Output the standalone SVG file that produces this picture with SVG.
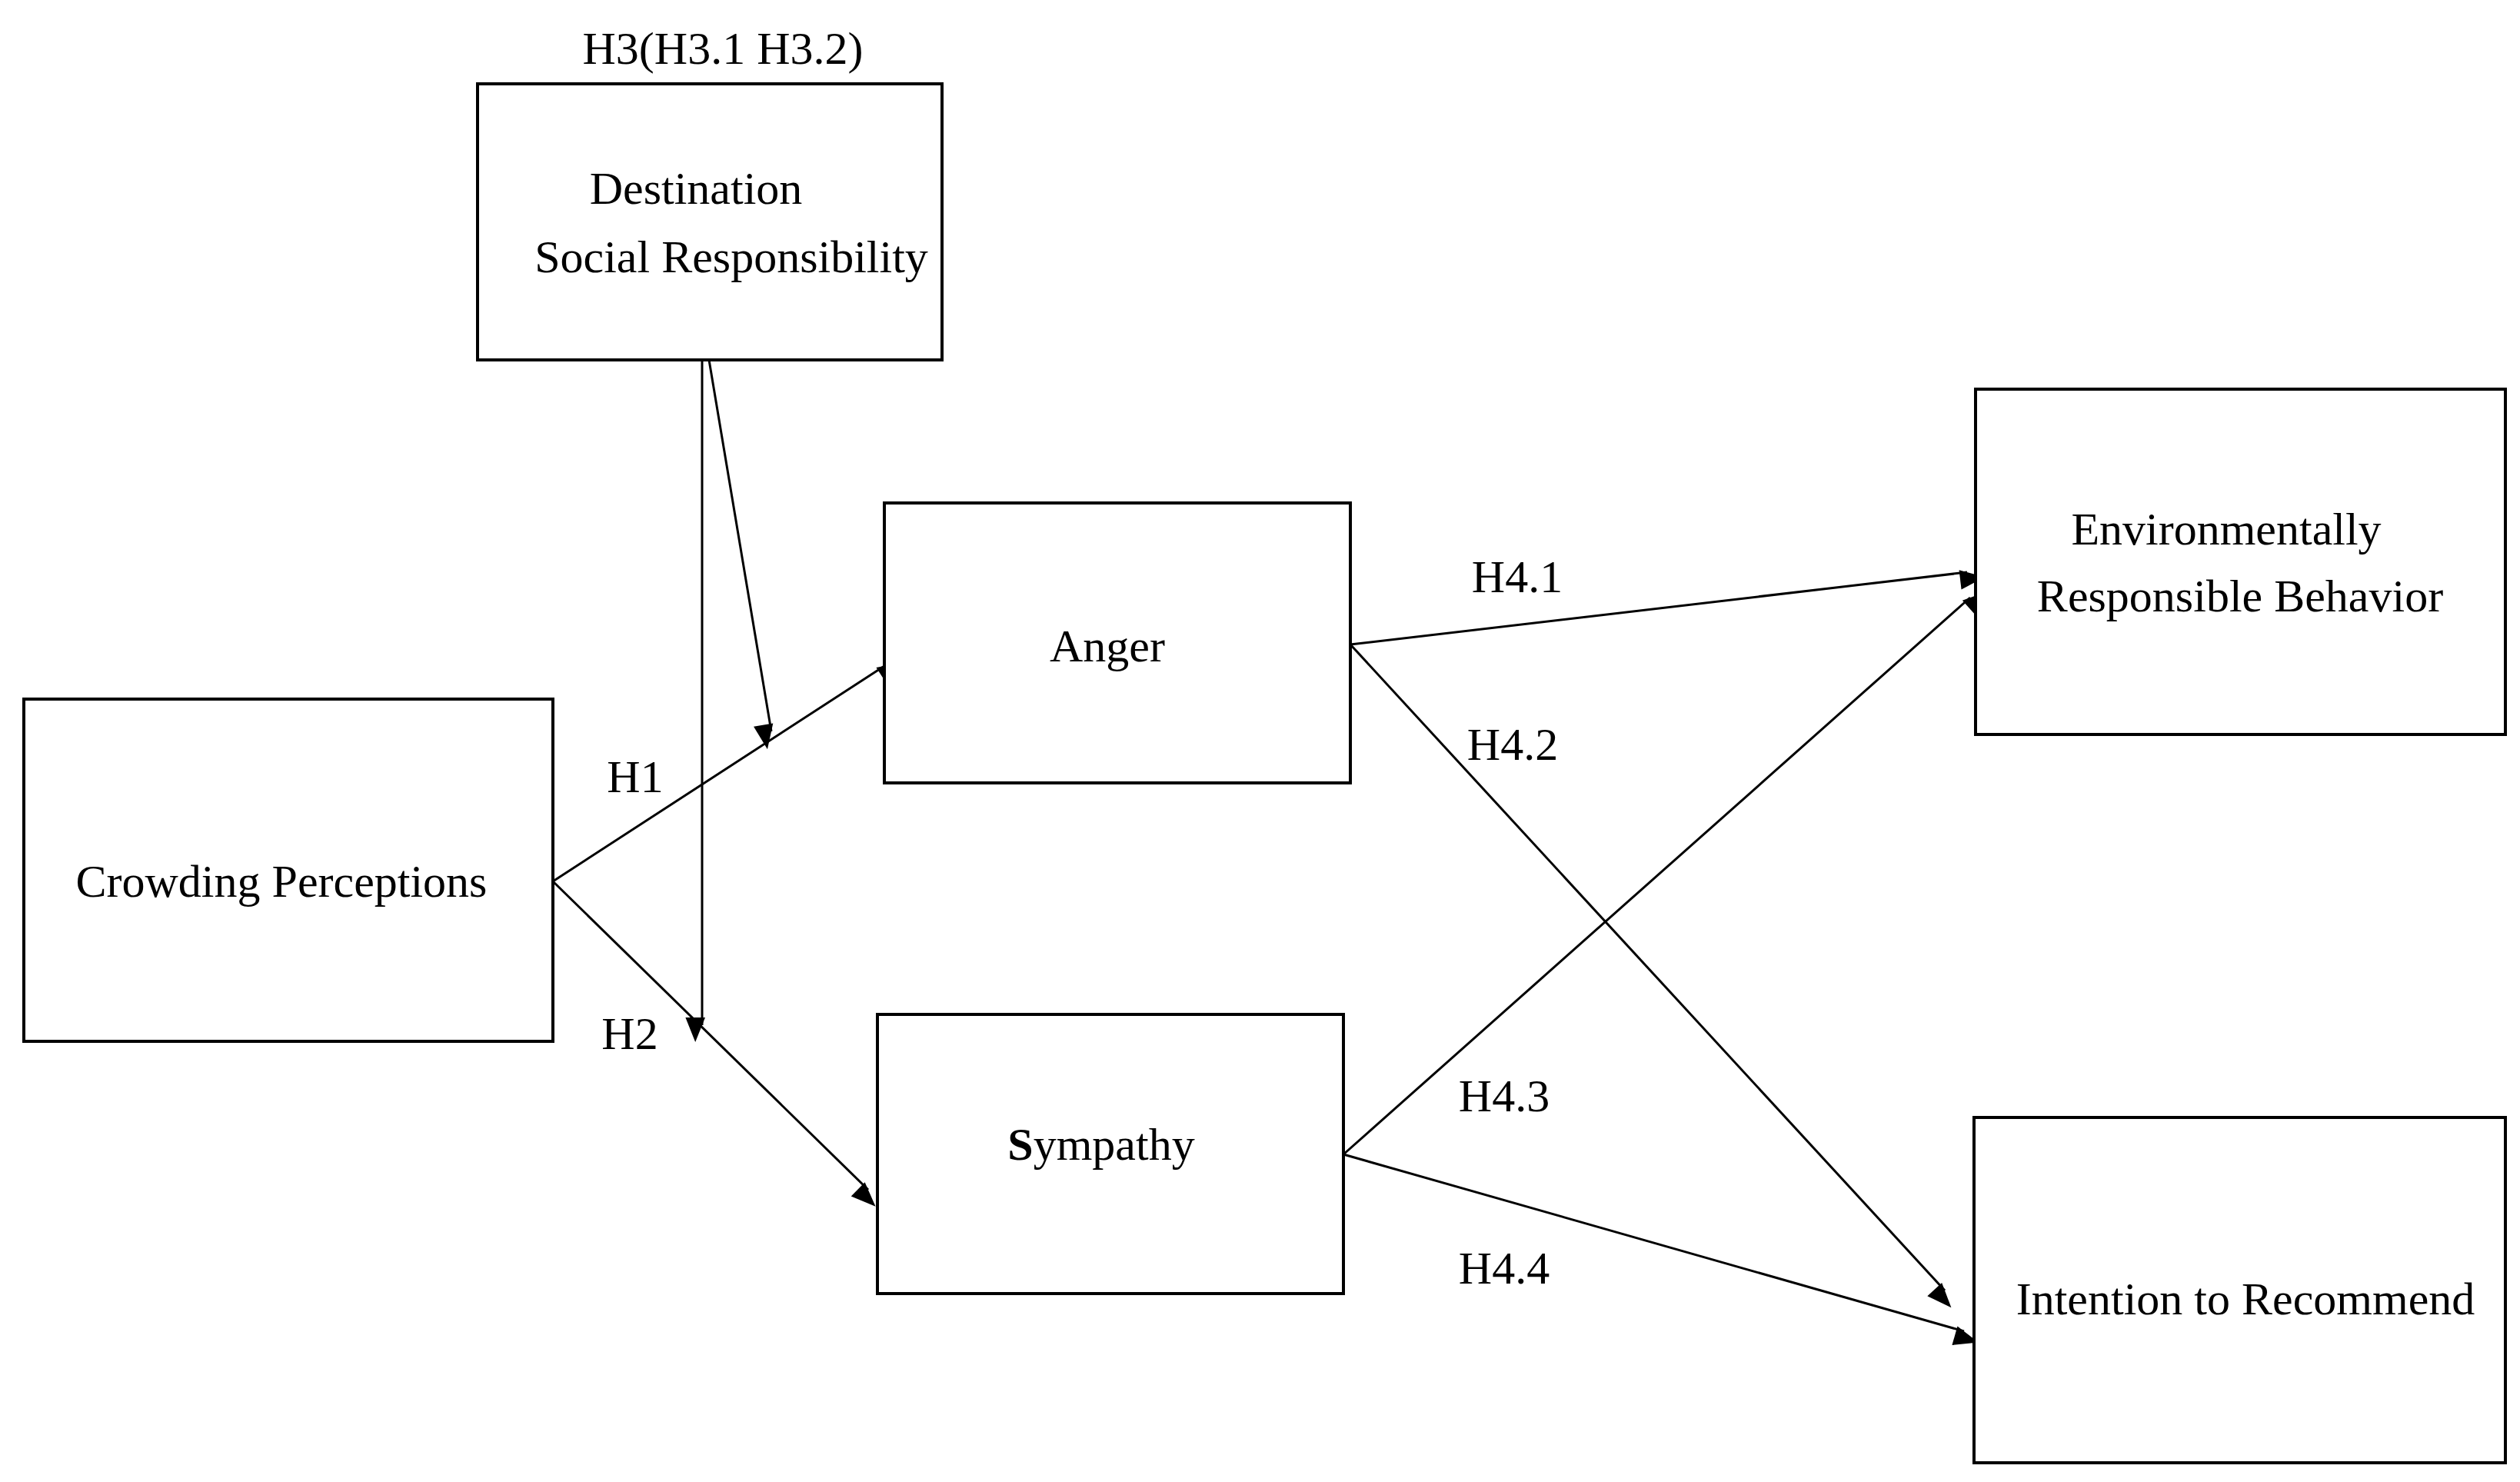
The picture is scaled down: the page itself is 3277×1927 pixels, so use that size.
<svg xmlns="http://www.w3.org/2000/svg" width="3277" height="1927" viewBox="0 0 3277 1927">
<style>
.box{fill:#fff;stroke:#000;stroke-width:4}
.t{font-family:"Liberation Serif","Times New Roman",serif;font-size:60px;fill:#000;text-anchor:middle;dominant-baseline:central}
.c{stroke:#000;stroke-width:3;fill:none;marker-end:url(#ah)}
</style>
<defs><marker id="ah" markerWidth="10" markerHeight="8" refX="10" refY="4" orient="auto" markerUnits="userSpaceOnUse" viewBox="0 0 10 8" style="overflow:visible"><path d="M0,0 L10,4 L0,8 z" transform="scale(3.2)" fill="#000"/></marker></defs>
<rect width="3277" height="1927" fill="#fff"/>
<g id="connectors">
<line class="c" x1="719" y1="1146" x2="1150" y2="866"/>
<line class="c" x1="719" y1="1146" x2="1129" y2="1547"/>
<line class="c" x1="913" y1="468" x2="913" y2="1333"/>
<line class="c" x1="922" y1="468" x2="1003" y2="951"/>
<line class="c" x1="1756" y1="838" x2="2558" y2="744"/>
<line class="c" x1="1756" y1="838" x2="2529" y2="1678"/>
<line class="c" x1="1747" y1="1501" x2="2562" y2="777"/>
<line class="c" x1="1747" y1="1501" x2="2554" y2="1731"/>
</g>
<g id="labels">
<text class="t" x="940" y="63">H3(H3.1 H3.2)</text>
<text class="t" x="826" y="1010">H1</text>
<text class="t" x="819" y="1344">H2</text>
<text class="t" x="1973" y="750">H4.1</text>
<text class="t" x="1967" y="968">H4.2</text>
<text class="t" x="1956" y="1425">H4.3</text>
<text class="t" x="1956" y="1649">H4.4</text>
</g>
<g id="destination"><rect class="box" x="621" y="109" width="604" height="359"/>
<text class="t" x="905" y="245">Destination</text><text class="t" x="951" y="334">Social Responsibility</text></g>
<g id="crowding"><rect class="box" x="31" y="909" width="688" height="445"/>
<text class="t" x="366" y="1146">Crowding Perceptions</text></g>
<g id="anger"><rect class="box" x="1150" y="654" width="606" height="364"/>
<text class="t" x="1440" y="840">Anger</text></g>
<g id="sympathy"><rect class="box" x="1141" y="1319" width="606" height="363"/>
<text class="t" x="1432" y="1488"><tspan font-weight="bold">S</tspan>ympathy</text></g>
<g id="erb"><rect class="box" x="2569" y="506" width="689" height="449"/>
<text class="t" x="2895" y="688">Environmentally</text><text class="t" x="2913" y="775">Responsible Behavior</text></g>
<g id="itr"><rect class="box" x="2567" y="1453" width="691" height="449"/>
<text class="t" x="2920" y="1689">Intention to Recommend</text></g>
</svg>
